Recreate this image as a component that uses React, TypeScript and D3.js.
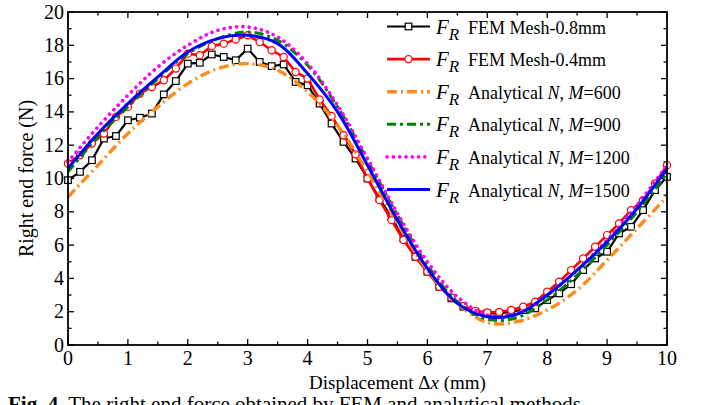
import React, { useEffect, useRef } from "react"
import * as d3 from "d3"

// FEM results, sampled every 0.2 mm
const xFem = [0, 0.2, 0.4, 0.6, 0.8, 1, 1.2, 1.4, 1.6, 1.8, 2, 2.2, 2.4, 2.6, 2.8, 3, 3.2, 3.4, 3.6, 3.8, 4, 4.2, 4.4, 4.6, 4.8, 5, 5.2, 5.4, 5.6, 5.8, 6, 6.2, 6.4, 6.6, 6.8, 7, 7.2, 7.4, 7.6, 7.8, 8, 8.2, 8.4, 8.6, 8.8, 9, 9.2, 9.4, 9.6, 9.8, 10]
const femMesh08 = [9.9, 10.4, 11.1, 12.4, 12.55, 13.5, 13.65, 13.9, 15.05, 15.85, 16.9, 16.95, 17.45, 17.3, 17.1, 17.8, 17.0, 16.75, 16.85, 15.8, 15.6, 14.5, 13.3, 12.2, 11.2, 10.0, 8.8, 7.7, 6.4, 5.3, 4.4, 3.5, 2.8, 2.3, 2.0, 1.9, 1.9, 2.0, 2.1, 2.2, 2.7, 3.1, 3.65, 4.5, 5.2, 5.6, 6.7, 7.1, 8.1, 9.3, 10.1]
const femMesh04 = [10.9, 11.4, 12.1, 12.7, 13.7, 14.3, 15.1, 15.5, 15.9, 16.6, 17.5, 17.4, 17.95, 18.1, 18.35, 18.6, 18.2, 17.7, 17.3, 16.4, 16.0, 14.75, 13.75, 12.6, 11.45, 10.0, 8.7, 7.5, 6.3, 5.3, 4.4, 3.5, 2.85, 2.35, 2.05, 1.95, 1.98, 2.1, 2.3, 2.6, 3.2, 3.8, 4.5, 5.2, 5.9, 6.6, 7.3, 8.1, 8.7, 9.7, 10.8]

// analytical curves, every 0.5 mm
const xAna = [0, 0.5, 1, 1.5, 2, 2.5, 3, 3.5, 4, 4.5, 5, 5.5, 6, 6.5, 7, 7.5, 8, 8.5, 9, 9.5, 10]
const anaM600 = [8.9, 10.8, 12.7, 14.3, 15.7, 16.6, 16.9, 16.5, 15.2, 13.2, 10.4, 7.3, 4.5, 2.5, 1.35, 1.4, 2.1, 3.3, 5.1, 7.0, 8.9]
const anaM900 = [10.4, 12.5, 14.3, 16.0, 17.5, 18.4, 18.8, 18.3, 16.8, 14.3, 11.1, 7.8, 4.8, 2.6, 1.55, 1.65, 2.7, 4.2, 6.0, 8.0, 10.3]
const anaM1200 = [11.0, 13.1, 15.0, 16.7, 18.0, 18.9, 19.1, 18.5, 16.9, 14.4, 11.2, 7.9, 5.0, 2.9, 1.8, 1.9, 3.0, 4.5, 6.3, 8.4, 10.8]
const anaM1500 = [10.6, 12.7, 14.5, 16.1, 17.6, 18.4, 18.6, 18.1, 16.3, 14.0, 10.8, 7.5, 4.6, 2.5, 1.7, 1.85, 3.0, 4.5, 6.2, 8.2, 10.6]

const xTicks = [0, 1, 2, 3, 4, 5, 6, 7, 8, 9, 10]
const yTicks = [0, 2, 4, 6, 8, 10, 12, 14, 16, 18, 20]

const W = 702
const H = 405
const margin = { left: 68, right: 35, top: 12, bottom: 60 }
const serif = "Times New Roman, Liberation Serif, DejaVu Serif, serif"

const App = () => {
  const canvas = useRef<HTMLDivElement>(null)

  useEffect(() => {
    const el = canvas.current
    if (!el) return
    d3.select(el).selectAll("*").remove()

    const svg = d3
      .select(el)
      .append("svg")
      .attr("width", W)
      .attr("height", H)
      .style("display", "block")
      .style("background", "#fff")
      .style("font-family", serif)

    const x = d3.scaleLinear().domain([0, 10]).range([margin.left, W - margin.right])
    const y = d3.scaleLinear().domain([0, 20]).range([H - margin.bottom, margin.top])

    const x0 = x(0), x1 = x(10), y0 = y(0), y1 = y(20)

    // ticks (inside, on all four sides)
    const ticks = svg.append("g").attr("stroke", "#000").attr("stroke-width", 1.3)
    d3.range(0, 10.01, 0.5).forEach(v => {
      const len = Number.isInteger(v) ? 6 : 3.5
      ticks.append("line").attr("x1", x(v)).attr("x2", x(v)).attr("y1", y0).attr("y2", y0 - len)
      ticks.append("line").attr("x1", x(v)).attr("x2", x(v)).attr("y1", y1).attr("y2", y1 + len)
    })
    d3.range(0, 20.01, 1).forEach(v => {
      const len = v % 2 === 0 ? 6 : 3.5
      ticks.append("line").attr("x1", x0).attr("x2", x0 + len).attr("y1", y(v)).attr("y2", y(v))
      ticks.append("line").attr("x1", x1).attr("x2", x1 - len).attr("y1", y(v)).attr("y2", y(v))
    })

    svg
      .append("g")
      .selectAll("text")
      .data(xTicks)
      .enter()
      .append("text")
      .attr("x", d => x(d))
      .attr("y", y0 + 20)
      .attr("text-anchor", "middle")
      .attr("font-size", 20)
      .text(d => d)

    svg
      .append("g")
      .selectAll("text")
      .data(yTicks)
      .enter()
      .append("text")
      .attr("x", x0 - 4)
      .attr("y", d => y(d) + 6.5)
      .attr("text-anchor", "end")
      .attr("font-size", 20)
      .text(d => d)

    // axis titles
    const xt = svg
      .append("text")
      .attr("x", x(5.5))
      .attr("y", 389)
      .attr("text-anchor", "middle")
      .attr("font-size", 19)
    xt.append("tspan").text("Displacement \u0394")
    xt.append("tspan").attr("font-style", "italic").text("x")
    xt.append("tspan").text(" (mm)")

    svg
      .append("text")
      .attr("transform", `translate(33,${(y0 + y1) / 2}) rotate(-90)`)
      .attr("text-anchor", "middle")
      .attr("font-size", 20)
      .text("Right end force (N)")

    // caption, cut by the bottom edge as in the source figure
    const cap = svg
      .append("text")
      .attr("x", 8)
      .attr("y", 411)
      .attr("font-size", 21)
    cap.append("tspan").attr("font-weight", "bold").text("Fig. 4.")
    cap.append("tspan").text(" The right end force obtained by FEM and analytical methods")

    const line = d3
      .line<[number, number]>()
      .x(d => x(d[0]))
      .y(d => y(d[1]))
    const smooth = d3
      .line<[number, number]>()
      .x(d => x(d[0]))
      .y(d => y(d[1]))
      .curve(d3.curveCatmullRom)

    const plot = svg.append("g")
    const pairs = (xs: number[], ys: number[]) => xs.map((v, i) => [v, ys[i]] as [number, number])

    const series = [
      { key: "m08", label: "FEM Mesh-0.8mm", xs: xFem, ys: femMesh08, color: "#000000", width: 2.2, dash: null, marker: "square" },
      { key: "m04", label: "FEM Mesh-0.4mm", xs: xFem, ys: femMesh04, color: "#ff0000", width: 2.6, dash: null, marker: "circle" },
      { key: "a600", label: "M600", xs: xAna, ys: anaM600, color: "#ff8c1a", width: 3.4, dash: "10,4,2,4", marker: null },
      { key: "a900", label: "M900", xs: xAna, ys: anaM900, color: "#008000", width: 3, dash: "9,4,3,4", marker: null },
      { key: "a1200", label: "M1200", xs: xAna, ys: anaM1200, color: "#ff00ff", width: 3.6, dash: "0.1,6.2", marker: null },
      { key: "a1500", label: "M1500", xs: xAna, ys: anaM1500, color: "#0000ff", width: 3, dash: null, marker: null }
    ]

    const drawMarker = (g: any, kind: string, cx: number, cy: number, color: string) => {
      if (kind === "square") {
        g.append("rect")
          .attr("x", cx - 3.3)
          .attr("y", cy - 3.3)
          .attr("width", 6.6)
          .attr("height", 6.6)
          .attr("fill", "#fff")
          .attr("stroke", color)
          .attr("stroke-width", 1.2)
      } else if (kind === "circle") {
        g.append("circle")
          .attr("cx", cx)
          .attr("cy", cy)
          .attr("r", 3.6)
          .attr("fill", "#fff")
          .attr("stroke", color)
          .attr("stroke-width", 1.2)
      }
    }

    series.forEach(s => {
      const g = plot.append("g")
      const path = g
        .append("path")
        .attr("d", (s.marker ? line : smooth)(pairs(s.xs, s.ys)))
        .attr("fill", "none")
        .attr("stroke", s.color)
        .attr("stroke-width", s.width)
        .attr("stroke-linejoin", "round")
        .attr("stroke-linecap", s.dash === "0.1,6.2" ? "round" : "butt")
      if (s.dash) path.attr("stroke-dasharray", s.dash)
      if (s.marker) s.xs.forEach((v, i) => drawMarker(g, s.marker as string, x(v), y(s.ys[i]), s.color))
    })

    // legend
    const leg = svg.append("g")
    series.forEach((s, i) => {
      const ly = 26.5 + i * 32.6
      leg
        .append("line")
        .attr("x1", 387)
        .attr("x2", 430)
        .attr("y1", ly)
        .attr("y2", ly)
        .attr("stroke", s.color)
        .attr("stroke-width", s.width)
        .attr("stroke-dasharray", s.dash ?? null)
        .attr("stroke-linecap", s.dash === "0.1,6.2" ? "round" : "butt")
      if (s.marker) drawMarker(leg, s.marker, 408.5, ly, s.color)

      const t = leg
        .append("text")
        .attr("x", 436)
        .attr("y", ly + 7)
        .attr("font-size", 18)
      t.append("tspan").attr("font-style", "italic").attr("font-size", 21).text("F")
      t.append("tspan").attr("font-style", "italic").attr("font-size", 17).attr("dy", 6).text("R")
      const rest = t.append("tspan").attr("x", 468).attr("dy", -6)
      if (s.marker) {
        rest.text(s.label)
      } else {
        rest.append("tspan").text("Analytical ")
        rest.append("tspan").attr("font-style", "italic").text("N")
        rest.append("tspan").text(", ")
        rest.append("tspan").attr("font-style", "italic").text("M")
        rest.append("tspan").text("=" + s.label.slice(1))
      }
    })

    // frame
    svg
      .append("rect")
      .attr("x", x0)
      .attr("y", y1)
      .attr("width", x1 - x0)
      .attr("height", y0 - y1)
      .attr("fill", "none")
      .attr("stroke", "#000")
      .attr("stroke-width", 1.8)
  }, [])

  return <div ref={canvas} style={{ position: "absolute", left: 0, top: 0 }}></div>
}

export default App
